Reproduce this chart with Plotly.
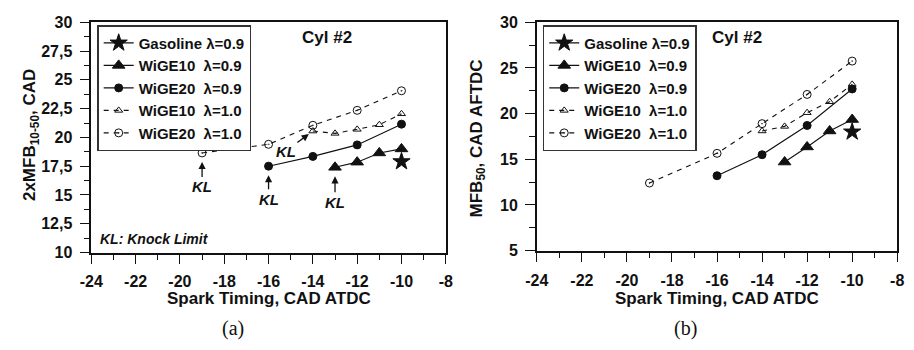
import plotly.graph_objects as go

W, H = 914, 350

# Spark timing sweeps (CAD ATDC)
st_gasoline = [-10]
st_wige10_09 = [-13, -12, -11, -10]
st_wige20_09 = [-16, -14, -12, -10]
st_wige10_10 = [-14, -13, -12, -11, -10]
st_wige20_10 = [-19, -16, -14, -12, -10]

# (a) 2xMFB10-50, CAD
a_gasoline = [17.9]
a_wige10_09 = [17.4, 17.85, 18.65, 19.0]
a_wige20_09 = [17.5, 18.35, 19.35, 21.15]
a_wige10_10 = [20.55, 20.35, 20.7, 21.1, 22.05]
a_wige20_10 = [18.65, 19.4, 21.05, 22.35, 24.05]

# (b) MFB50, CAD AFTDC
b_gasoline = [18.0]
b_wige10_09 = [14.7, 16.35, 18.1, 19.35]
b_wige20_09 = [13.2, 15.5, 18.7, 22.7]
b_wige10_10 = [18.1, 18.6, 20.1, 21.3, 23.2]
b_wige20_10 = [12.4, 15.65, 18.9, 22.1, 25.75]

# Tick positions and labels
x_ticks = [-24, -22, -20, -18, -16, -14, -12, -10, -8]
x_ticktext = ["-24", "-22", "-20", "-18", "-16", "-14", "-12", "-10", "-8"]
ya_ticks = [10, 12.5, 15, 17.5, 20, 22.5, 25, 27.5, 30]
ya_ticktext = ["10", "12,5", "15", "17,5", "20", "22,5", "25", "27,5", "30"]
yb_ticks = [5, 10, 15, 20, 25, 30]
yb_ticktext = ["5", "10", "15", "20", "25", "30"]

names = ["Gasoline λ=0.9", "WiGE10\u00a0 λ=0.9", "WiGE20\u00a0 λ=0.9",
         "WiGE10\u00a0 λ=1.0", "WiGE20\u00a0 λ=1.0"]

styles = [
    dict(symbol="star", size=13, dash="solid"),
    dict(symbol="triangle-up", size=11, dash="solid"),
    dict(symbol="circle", size=8, dash="solid"),
    dict(symbol="triangle-up-open", size=7, dash="5px,5px"),
    dict(symbol="circle-open-dot", size=8, dash="5px,5px"),
]

FONT = "Liberation Sans, Arial, sans-serif"
BLACK = "#111111"


def px_x(x):
    return x / W


def px_y(y):
    return 1 - y / H


fig = go.Figure()

series_a = [a_gasoline, a_wige10_09, a_wige20_09, a_wige10_10, a_wige20_10]
series_b = [b_gasoline, b_wige10_09, b_wige20_09, b_wige10_10, b_wige20_10]
xs = [st_gasoline, st_wige10_09, st_wige20_09, st_wige10_10, st_wige20_10]

for series, xa, ya, leg in [(series_a, "x", "y", "legend"),
                            (series_b, "x2", "y2", "legend2")]:
    for name, x, y, s in zip(names, xs, series, styles):
        fig.add_trace(go.Scatter(
            x=x, y=y, name=name, mode="lines+markers",
            xaxis=xa, yaxis=ya, legend=leg,
            line=dict(color=BLACK, width=1.1, dash=s["dash"]),
            marker=dict(symbol=s["symbol"], size=s["size"], color=BLACK,
                        line=dict(color=BLACK, width=1)),
        ))

tickfont = dict(family=FONT, size=16, color=BLACK, weight="bold")

axis_common = dict(
    showline=True, linecolor=BLACK, linewidth=1.5, mirror=True,
    showgrid=False, zeroline=False, ticks="outside", ticklen=10,
    tickwidth=1.3, tickcolor=BLACK, tickfont=tickfont,
    tickmode="array", ticklabelstandoff=4,
)

xaxis_common = dict(axis_common, range=[-24, -8],
                    tickvals=x_ticks, ticktext=x_ticktext,
                    minor=dict(tickmode="linear", tick0=-24, dtick=1,
                               ticks="outside", ticklen=6,
                               tickwidth=1.3, tickcolor=BLACK))

legend_common = dict(
    bgcolor="white", bordercolor="#333333", borderwidth=1.5,
    font=dict(family=FONT, size=15, color=BLACK, weight="bold"),
    xanchor="left", yanchor="top", tracegroupgap=0, itemwidth=30,
)

fig.update_layout(
    width=W, height=H,
    margin=dict(l=0, r=0, t=0, b=0),
    paper_bgcolor="white", plot_bgcolor="white",
    showlegend=True,
    xaxis=dict(xaxis_common, domain=[px_x(81), px_x(443)], anchor="y"),
    yaxis=dict(axis_common, domain=[px_y(257), px_y(15)], anchor="x",
               range=[10, 30], tickvals=ya_ticks, ticktext=ya_ticktext,
               minor=dict(tickmode="linear", tick0=10, dtick=1.25,
                          ticks="outside", ticklen=6,
                          tickwidth=1.3, tickcolor=BLACK)),
    xaxis2=dict(xaxis_common, domain=[px_x(536), px_x(904)], anchor="y2"),
    yaxis2=dict(axis_common, domain=[px_y(255), px_y(15)], anchor="x2",
                range=[5, 30], tickvals=yb_ticks, ticktext=yb_ticktext,
                minor=dict(tickmode="linear", tick0=5, dtick=2.5,
                           ticks="outside", ticklen=6,
                           tickwidth=1.3, tickcolor=BLACK)),
    legend=dict(legend_common, x=px_x(87), y=px_y(18)),
    legend2=dict(legend_common, x=px_x(542), y=px_y(18)),
)

bold = dict(family=FONT, size=17, color=BLACK, weight="bold")
bold_it = dict(family=FONT, size=15, color=BLACK, weight="bold", style="italic")

texts = [
    dict(text="Cyl #2", x=px_x(322), y=px_y(31), font=bold),
    dict(text="Cyl #2", x=px_x(740), y=px_y(31), font=bold),
    dict(text="Spark Timing, CAD ATDC", x=px_x(262), y=px_y(305), font=bold),
    dict(text="Spark Timing, CAD ATDC", x=px_x(720), y=px_y(305), font=bold),
    dict(text="2xMFB<sub>10-50</sub>, CAD", x=px_x(20), y=px_y(134),
         font=bold, textangle=-90),
    dict(text="MFB<sub>50</sub>, CAD AFTDC", x=px_x(476), y=px_y(137),
         font=bold, textangle=-90),
    dict(text="(a)", x=px_x(226), y=px_y(337),
         font=dict(family="Liberation Serif, Times New Roman, serif",
                   size=20, color=BLACK)),
    dict(text="(b)", x=px_x(688), y=px_y(337),
         font=dict(family="Liberation Serif, Times New Roman, serif",
                   size=20, color=BLACK)),
]
for t in texts:
    fig.add_annotation(xref="paper", yref="paper", showarrow=False,
                       xanchor="center", yanchor="middle", **t)

fig.add_annotation(xref="paper", yref="paper", x=px_x(88), y=px_y(243),
                   text="KL: Knock Limit", showarrow=False,
                   xanchor="left", yanchor="middle",
                   font=dict(bold_it, size=14))

# Knock-limit markers on panel (a)
kl_arrows = [
    (st_wige20_10[0], a_wige20_10[0], 0, 34, 9),
    (st_wige20_09[0], a_wige20_09[0], 0, 33, 9),
    (st_wige10_09[0], a_wige10_09[0], 0, 35, 9),
    (st_wige10_10[0], a_wige10_10[0], -27, 20, 5),
]
for x, y, ax, ay, so in kl_arrows:
    fig.add_annotation(xref="x", yref="y", x=x, y=y, ax=ax, ay=ay,
                       text="KL", showarrow=True, arrowhead=2,
                       arrowsize=1.1, arrowwidth=1.3, arrowcolor=BLACK,
                       standoff=so, font=bold_it)

fig.write_html("out.html")
